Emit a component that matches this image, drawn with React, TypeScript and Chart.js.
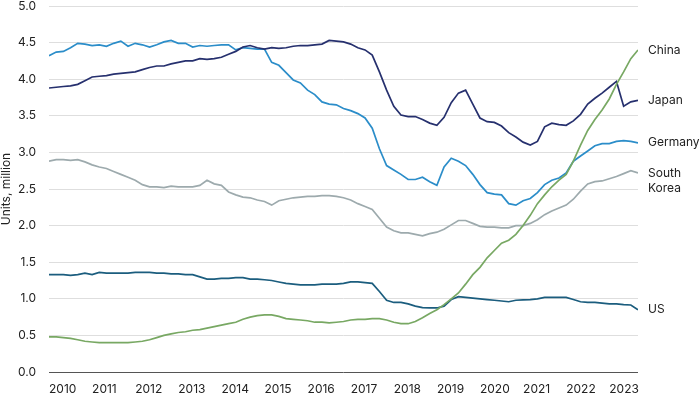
import { useEffect, useRef } from "react";
import { Chart, registerables } from "chart.js";

Chart.register(...registerables);

// Time axis: months since Jan 2010, sampled every 2 months
const startYear = 2010;
const stepMonths = 2;
const yearLabels = [2010, 2011, 2012, 2013, 2014, 2015, 2016, 2017, 2018, 2019, 2020, 2021, 2022, 2023];
const yTickValues = [0, 0.5, 1, 1.5, 2, 2.5, 3, 3.5, 4, 4.5, 5];

const seriesNames = ["China", "Japan", "Germany", "South Korea", "US"];
const endLabels = [["China"], ["Japan"], ["Germany"], ["South", "Korea"], ["US"]];
const seriesColors = ["#78a863", "#26306e", "#2b8dc9", "#9daaad", "#1b5d7e"];

// Units, million
const china = [
  0.48, 0.48, 0.47, 0.46, 0.44, 0.42, 0.41, 0.40, 0.40, 0.40, 0.40, 0.40,
  0.41, 0.42, 0.44, 0.47, 0.50, 0.52, 0.54, 0.55, 0.57, 0.58, 0.60, 0.62,
  0.64, 0.66, 0.68, 0.72, 0.75, 0.77, 0.78, 0.78, 0.76, 0.73, 0.72, 0.71,
  0.70, 0.68, 0.68, 0.67, 0.68, 0.69, 0.71, 0.72, 0.72, 0.73, 0.73, 0.71,
  0.68, 0.66, 0.66, 0.69, 0.74, 0.80, 0.85, 0.92, 1.00, 1.08, 1.20, 1.33,
  1.43, 1.56, 1.66, 1.76, 1.80, 1.88, 2.00, 2.14, 2.30, 2.42, 2.53, 2.62,
  2.70, 2.88, 3.10, 3.30, 3.45, 3.58, 3.73, 3.93, 4.10, 4.28, 4.40,
];
const japan = [
  3.88, 3.89, 3.90, 3.91, 3.93, 3.98, 4.03, 4.04, 4.05, 4.07, 4.08, 4.09,
  4.10, 4.13, 4.16, 4.18, 4.18, 4.21, 4.23, 4.25, 4.25, 4.28, 4.27, 4.28,
  4.30, 4.34, 4.38, 4.44, 4.46, 4.43, 4.41, 4.43, 4.42, 4.43, 4.45, 4.46,
  4.46, 4.47, 4.48, 4.53, 4.52, 4.51, 4.48, 4.43, 4.40, 4.33, 4.10, 3.85,
  3.63, 3.51, 3.49, 3.49, 3.45, 3.40, 3.37, 3.48, 3.68, 3.81, 3.85, 3.66,
  3.47, 3.42, 3.41, 3.36, 3.27, 3.21, 3.14, 3.10, 3.15, 3.35, 3.40, 3.38,
  3.37, 3.43, 3.52, 3.66, 3.74, 3.81, 3.89, 3.97, 3.63, 3.69, 3.71,
];
const germany = [
  4.32, 4.37, 4.38, 4.43, 4.49, 4.48, 4.46, 4.47, 4.45, 4.49, 4.52, 4.45,
  4.49, 4.47, 4.44, 4.47, 4.51, 4.53, 4.49, 4.49, 4.44, 4.46, 4.45, 4.46,
  4.47, 4.47, 4.40, 4.43, 4.42, 4.41, 4.41, 4.23, 4.19, 4.09, 3.99, 3.95,
  3.85, 3.79, 3.69, 3.66, 3.65, 3.60, 3.57, 3.53, 3.47, 3.33, 3.05, 2.82,
  2.76, 2.70, 2.63, 2.63, 2.66, 2.60, 2.55, 2.80, 2.92, 2.88, 2.82, 2.70,
  2.56, 2.45, 2.43, 2.42, 2.30, 2.28, 2.34, 2.37, 2.45, 2.56, 2.62, 2.65,
  2.72, 2.88, 2.95, 3.02, 3.09, 3.12, 3.12, 3.15, 3.16, 3.15, 3.13,
];
const southKorea = [
  2.88, 2.90, 2.90, 2.89, 2.90, 2.87, 2.83, 2.80, 2.78, 2.74, 2.70, 2.66,
  2.62, 2.56, 2.53, 2.53, 2.52, 2.54, 2.53, 2.53, 2.53, 2.55, 2.62, 2.57,
  2.55, 2.46, 2.42, 2.39, 2.38, 2.35, 2.33, 2.28, 2.34, 2.36, 2.38, 2.39,
  2.40, 2.40, 2.41, 2.41, 2.40, 2.38, 2.35, 2.30, 2.26, 2.22, 2.10, 1.98,
  1.93, 1.90, 1.90, 1.88, 1.86, 1.89, 1.91, 1.95, 2.01, 2.07, 2.07, 2.03,
  1.99, 1.98, 1.98, 1.97, 1.97, 2.00, 2.00, 2.03, 2.08, 2.15, 2.20, 2.24,
  2.28, 2.36, 2.47, 2.57, 2.60, 2.61, 2.64, 2.67, 2.71, 2.75, 2.72,
];
const us = [
  1.33, 1.33, 1.33, 1.32, 1.33, 1.35, 1.33, 1.36, 1.35, 1.35, 1.35, 1.35,
  1.36, 1.36, 1.36, 1.35, 1.35, 1.34, 1.34, 1.33, 1.33, 1.30, 1.27, 1.27,
  1.28, 1.28, 1.29, 1.29, 1.27, 1.27, 1.26, 1.25, 1.23, 1.21, 1.20, 1.19,
  1.19, 1.19, 1.20, 1.20, 1.20, 1.21, 1.23, 1.23, 1.22, 1.21, 1.10, 0.98,
  0.95, 0.95, 0.93, 0.90, 0.88, 0.875, 0.875, 0.90, 0.99, 1.03, 1.02, 1.01,
  1.00, 0.99, 0.98, 0.97, 0.96, 0.98, 0.985, 0.99, 1.00, 1.02, 1.02, 1.02,
  1.02, 0.99, 0.96, 0.95, 0.95, 0.94, 0.93, 0.93, 0.92, 0.915, 0.85,
];

const seriesValues = [china, japan, germany, southKorea, us];

const FONT = "Inter, 'Liberation Sans', Arial, sans-serif";

const endLabelPlugin = {
  id: "endLabels",
  afterDatasetsDraw(chart: any) {
    const { ctx, chartArea } = chart;
    ctx.save();
    ctx.font = `12px ${FONT}`;
    ctx.fillStyle = "#222";
    ctx.textAlign = "left";
    ctx.textBaseline = "middle";
    chart.data.datasets.forEach((ds: any, i: number) => {
      const meta = chart.getDatasetMeta(i);
      const last = meta.data[meta.data.length - 1];
      if (!last) return;
      const lines = endLabels[i];
      lines.forEach((t: string, j: number) => {
        ctx.fillText(t, chartArea.right + 10, last.y + j * 15);
      });
    });
    ctx.restore();
  },
};

export default function App() {
  const ref = useRef<HTMLCanvasElement | null>(null);

  useEffect(() => {
    document.body.style.margin = "0";
    const canvas = ref.current;
    if (!canvas) return;
    const datasets = seriesNames.map((name, i) => ({
      label: name,
      data: seriesValues[i].map((v, k) => ({ x: k * stepMonths, y: v })),
      borderColor: seriesColors[i],
      backgroundColor: seriesColors[i],
      borderWidth: 1.7,
      pointRadius: 0,
      tension: 0,
      fill: false,
    }));
    const lastMonth = (china.length - 1) * stepMonths;
    const chart = new Chart(canvas, {
      type: "line",
      data: { datasets },
      options: {
        animation: false,
        responsive: false,
        maintainAspectRatio: false,
        layout: { padding: { top: 6, right: 62, left: 0, bottom: 0 } },
        plugins: {
          legend: { display: false },
          tooltip: { enabled: false },
        },
        scales: {
          x: {
            type: "linear",
            min: 0,
            max: lastMonth,
            grid: { display: false, drawTicks: false },
            border: { display: false },
            afterBuildTicks: (scale: any) => {
              scale.ticks = yearLabels.map((y) => ({ value: (y - startYear) * 12 }));
            },
            afterFit: (scale: any) => {
              scale.height = 22;
              scale.paddingLeft = 0;
              scale.paddingRight = 0;
            },
            ticks: {
              autoSkip: false,
              maxRotation: 0,
              align: "start",
              padding: 10,
              color: "#222",
              font: { family: FONT, size: 12 },
              callback: (v: any) => String(startYear + Math.round(Number(v) / 12)),
            },
          },
          y: {
            min: 0,
            max: 5,
            afterBuildTicks: (scale: any) => {
              scale.ticks = yTickValues.map((v) => ({ value: v }));
            },
            afterFit: (scale: any) => {
              scale.width = 49;
              scale.paddingTop = 0;
              scale.paddingBottom = 0;
            },
            border: { display: false },
            grid: {
              drawTicks: false,
              lineWidth: 1,
              color: (c: any) => (c.tick && c.tick.value === 0 ? "#555" : "#dedede"),
            },
            ticks: {
              padding: 13,
              color: "#222",
              font: { family: FONT, size: 12 },
              callback: (v: any) => Number(v).toFixed(1),
            },
            title: {
              display: true,
              text: "Units, million",
              color: "#222",
              font: { family: FONT, size: 12, lineHeight: 1 },
              padding: 0,
            },
          },
        },
      },
      plugins: [endLabelPlugin],
    });
    return () => chart.destroy();
  }, []);

  return (
    <div style={{ position: "absolute", left: 0, top: 0, width: 700, height: 394, background: "#fff" }}>
      <canvas ref={ref} width={700} height={394} />
    </div>
  );
}
